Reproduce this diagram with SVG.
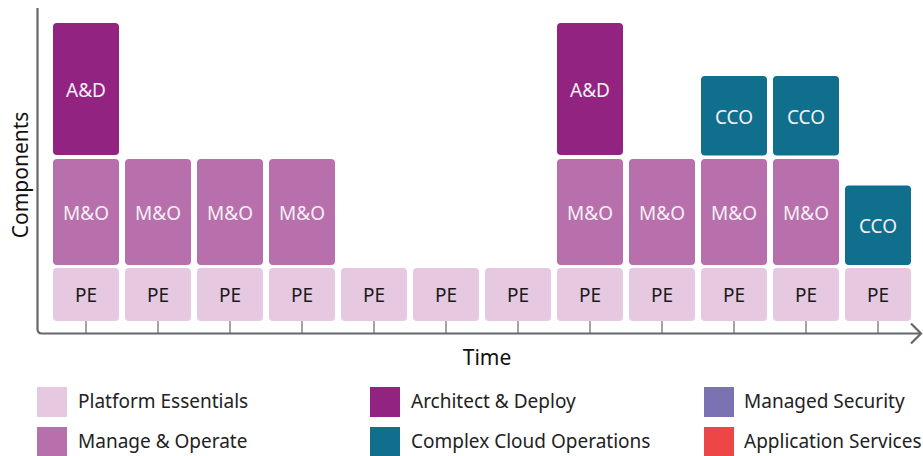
<svg xmlns="http://www.w3.org/2000/svg" width="923" height="456" viewBox="0 0 923 456">
<style>
.pe{fill:#e6c8e0}
.mo{fill:#b870ac}
.ad{fill:#922381}
.cco{fill:#0f6f8c}
.ms{fill:#7b72b4}
.as{fill:#ee4646}
text{font-family:"Noto Sans","Open Sans",sans-serif}
.lb{font-size:19px;text-anchor:middle}
.dk{fill:#1a1a1a}
.wt{fill:#f4f0f4}
.lg{font-size:19px;fill:#222}
.ax{font-size:21px;fill:#111}
.axis{fill:none;stroke:#65676b;stroke-width:2.2}
.tick{stroke:#65676b;stroke-width:1.2}
</style>
<defs>
<rect id="bpe" width="66" height="53" rx="4"/>
<rect id="bmo" width="66" height="106" rx="4"/>
<rect id="bad" width="66" height="132" rx="4"/>
<rect id="bcco" width="66" height="79.5" rx="4"/>
</defs>
<g id="axes">
<path class="axis" d="M37.5,8 V329 Q37.5,333.5 42,333.5 H921"/>
<path class="axis" d="M911,323.5 L921,333.5 L911,343.5"/>
<g class="tick">
<line x1="86" y1="321" x2="86" y2="333"/>
<line x1="158" y1="321" x2="158" y2="333"/>
<line x1="230" y1="321" x2="230" y2="333"/>
<line x1="302" y1="321" x2="302" y2="333"/>
<line x1="374" y1="321" x2="374" y2="333"/>
<line x1="446" y1="321" x2="446" y2="333"/>
<line x1="518" y1="321" x2="518" y2="333"/>
<line x1="590" y1="321" x2="590" y2="333"/>
<line x1="662" y1="321" x2="662" y2="333"/>
<line x1="734" y1="321" x2="734" y2="333"/>
<line x1="806" y1="321" x2="806" y2="333"/>
<line x1="878" y1="321" x2="878" y2="333"/>
</g>
<text class="ax" transform="translate(28,175) rotate(-90)" text-anchor="middle">Components</text>
<text class="ax" x="487" y="365" text-anchor="middle">Time</text>
</g>
<g id="col1">
<use href="#bpe" class="pe" x="53" y="268"/><text class="lb dk" x="86" y="302">PE</text>
<use href="#bmo" class="mo" x="53" y="159"/><text class="lb wt" x="86" y="220">M&amp;O</text>
<use href="#bad" class="ad" x="53" y="23"/><text class="lb wt" x="86" y="97">A&amp;D</text>
</g>
<g id="col2">
<use href="#bpe" class="pe" x="125" y="268"/><text class="lb dk" x="158" y="302">PE</text>
<use href="#bmo" class="mo" x="125" y="159"/><text class="lb wt" x="158" y="220">M&amp;O</text>
</g>
<g id="col3">
<use href="#bpe" class="pe" x="197" y="268"/><text class="lb dk" x="230" y="302">PE</text>
<use href="#bmo" class="mo" x="197" y="159"/><text class="lb wt" x="230" y="220">M&amp;O</text>
</g>
<g id="col4">
<use href="#bpe" class="pe" x="269" y="268"/><text class="lb dk" x="302" y="302">PE</text>
<use href="#bmo" class="mo" x="269" y="159"/><text class="lb wt" x="302" y="220">M&amp;O</text>
</g>
<g id="col5">
<use href="#bpe" class="pe" x="341" y="268"/><text class="lb dk" x="374" y="302">PE</text>
</g>
<g id="col6">
<use href="#bpe" class="pe" x="413" y="268"/><text class="lb dk" x="446" y="302">PE</text>
</g>
<g id="col7">
<use href="#bpe" class="pe" x="485" y="268"/><text class="lb dk" x="518" y="302">PE</text>
</g>
<g id="col8">
<use href="#bpe" class="pe" x="557" y="268"/><text class="lb dk" x="590" y="302">PE</text>
<use href="#bmo" class="mo" x="557" y="159"/><text class="lb wt" x="590" y="220">M&amp;O</text>
<use href="#bad" class="ad" x="557" y="23"/><text class="lb wt" x="590" y="97">A&amp;D</text>
</g>
<g id="col9">
<use href="#bpe" class="pe" x="629" y="268"/><text class="lb dk" x="662" y="302">PE</text>
<use href="#bmo" class="mo" x="629" y="159"/><text class="lb wt" x="662" y="220">M&amp;O</text>
</g>
<g id="col10">
<use href="#bpe" class="pe" x="701" y="268"/><text class="lb dk" x="734" y="302">PE</text>
<use href="#bmo" class="mo" x="701" y="159"/><text class="lb wt" x="734" y="220">M&amp;O</text>
<use href="#bcco" class="cco" x="701" y="76"/><text class="lb wt" x="734" y="124">CCO</text>
</g>
<g id="col11">
<use href="#bpe" class="pe" x="773" y="268"/><text class="lb dk" x="806" y="302">PE</text>
<use href="#bmo" class="mo" x="773" y="159"/><text class="lb wt" x="806" y="220">M&amp;O</text>
<use href="#bcco" class="cco" x="773" y="76"/><text class="lb wt" x="806" y="124">CCO</text>
</g>
<g id="col12">
<use href="#bpe" class="pe" x="845" y="268"/><text class="lb dk" x="878" y="302">PE</text>
<use href="#bcco" class="cco" x="845" y="185.5"/><text class="lb wt" x="878" y="233">CCO</text>
</g>
<g id="legend">
<rect class="pe" x="37" y="387" width="30" height="30"/><text class="lg" x="78" y="408">Platform Essentials</text>
<rect class="mo" x="37" y="427" width="30" height="29"/><text class="lg" x="78" y="448">Manage &amp; Operate</text>
<rect class="ad" x="370" y="387" width="30" height="30"/><text class="lg" x="411" y="408">Architect &amp; Deploy</text>
<rect class="cco" x="370" y="427" width="30" height="29"/><text class="lg" x="411" y="448">Complex Cloud Operations</text>
<rect class="ms" x="704" y="387" width="30" height="30"/><text class="lg" x="744" y="408">Managed Security</text>
<rect class="as" x="704" y="427" width="30" height="29"/><text class="lg" x="744" y="448">Application Services</text>
</g>
</svg>
